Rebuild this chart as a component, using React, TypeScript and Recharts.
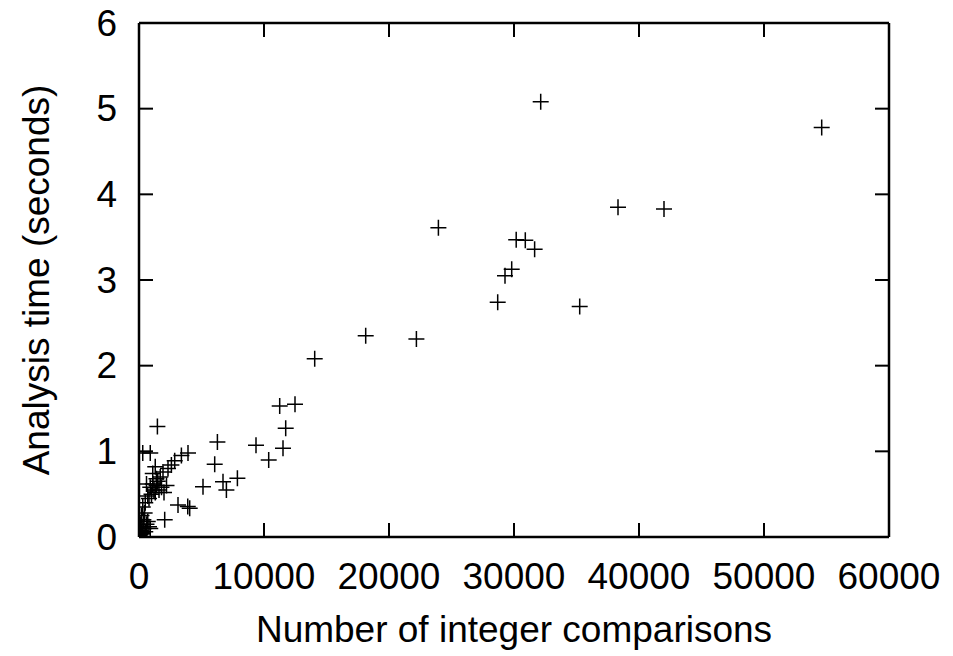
import React from "react";
import { ScatterChart, Scatter, XAxis, YAxis } from "recharts";

const comparisons: number[] = [
  50, 100, 200, 300, 150, 400, 500, 250, 600, 350, 700, 800, 900, 100, 200, 450,
  300, 500, 800, 1000, 1200, 1400, 1600, 1100, 1300, 1800, 1500, 900, 700, 2000,
  1700, 1100, 1300, 1400, 600, 2200, 1472, 300, 900, 1920, 2320, 2592, 2856, 3392,
  3920, 2056, 3120, 4056, 3900, 5120, 6720, 6992, 7872, 6272, 6056, 9360, 10376,
  11520, 11736, 11256, 12480, 14056, 18136, 22192, 23952, 28696, 29280, 29816,
  30176, 30904, 31650, 32136, 35256, 38320, 42000, 54616,
];
const times: number[] = [
  0.02, 0.03, 0.05, 0.04, 0.08, 0.1, 0.06, 0.12, 0.15, 0.2, 0.18, 0.12, 0.1, 0.15, 0.25, 0.28,
  0.35, 0.4, 0.45, 0.5, 0.55, 0.6, 0.55, 0.62, 0.52, 0.58, 0.65, 0.58, 0.48, 0.52,
  0.7, 0.74, 0.82, 0.68, 0.62, 0.6, 1.29, 0.98, 0.98, 0.76, 0.8, 0.84, 0.89, 0.95,
  0.98, 0.2, 0.374, 0.335, 0.355, 0.587, 0.645, 0.55, 0.685, 1.11, 0.85, 1.07, 0.9,
  1.035, 1.27, 1.53, 1.55, 2.08, 2.35, 2.31, 3.61, 2.74, 3.05, 3.125,
  3.47, 3.465, 3.36, 5.08, 2.69, 3.85, 3.83, 4.78,
];
const xTicks: number[] = [0, 10000, 20000, 30000, 40000, 50000, 60000];
const yTicks: number[] = [0, 1, 2, 3, 4, 5, 6];

const data = comparisons.map((x, i) => ({ x, y: times[i] }));

const FONT = "'Liberation Sans', Arial, Helvetica, sans-serif";
const FS = 37;
const TICK = 14;

const Cross = (props: any) => {
  const { cx, cy } = props;
  if (cx == null || cy == null) return null;
  const h = 8;
  return (
    <path
      d={`M${cx - h},${cy}H${cx + h}M${cx},${cy - h}V${cy + h}`}
      stroke="#000"
      strokeWidth={1.5}
      fill="none"
    />
  );
};

const BottomTick = (props: any) => {
  const { x, y, payload } = props;
  return (
    <g>
      <line x1={x} x2={x} y1={y} y2={y - TICK} stroke="#000" strokeWidth={2} />
      <text x={x} y={y + 39} textAnchor="middle" dominantBaseline="central" fontSize={FS} fontFamily={FONT} fill="#000">
        {payload.value}
      </text>
    </g>
  );
};
const TopTick = (props: any) => {
  const { x, y } = props;
  return <line x1={x} x2={x} y1={y} y2={y + TICK} stroke="#000" strokeWidth={2} />;
};
const LeftTick = (props: any) => {
  const { x, y, payload } = props;
  return (
    <g>
      <line x1={x} x2={x + TICK} y1={y} y2={y} stroke="#000" strokeWidth={2} />
      <text x={x - 22} y={y} textAnchor="end" dominantBaseline="central" fontSize={FS} fontFamily={FONT} fill="#000">
        {payload.value}
      </text>
    </g>
  );
};
const RightTick = (props: any) => {
  const { x, y } = props;
  return <line x1={x} x2={x - TICK} y1={y} y2={y} stroke="#000" strokeWidth={2} />;
};

const XTitle = (props: any) => {
  const vb = props.viewBox || {};
  return (
    <text x={vb.x + vb.width / 2} y={vb.y + 105} textAnchor="middle" fontSize={FS} fontFamily={FONT} fill="#000">
      Number of integer comparisons
    </text>
  );
};
const YTitle = (props: any) => {
  const vb = props.viewBox || {};
  const cx = vb.x + 36;
  const cy = vb.y + vb.height / 2;
  return (
    <text
      x={cx}
      y={cy}
      transform={`rotate(-90 ${cx} ${cy})`}
      textAnchor="middle"
      dominantBaseline="central"
      fontSize={FS}
      fontFamily={FONT}
      fill="#000"
    >
      Analysis time (seconds)
    </text>
  );
};

const axisLine = { stroke: "#000", strokeWidth: 2.5 };

export default function App() {
  return (
    <div style={{ position: "absolute", left: 0, top: 0, background: "#fff" }}>
      <ScatterChart width={953} height={656} margin={{ top: 22, right: 63, bottom: 9, left: 0 }}>
        <XAxis
          xAxisId="b"
          type="number"
          dataKey="x"
          domain={[0, 60000]}
          ticks={xTicks}
          allowDataOverflow
          orientation="bottom"
          height={110}
          tickSize={0}
          tickMargin={0}
          tickLine={false}
          axisLine={axisLine}
          tick={<BottomTick />}
          interval={0}
          label={<XTitle />}
        />
        <XAxis
          xAxisId="t"
          type="number"
          dataKey="x"
          domain={[0, 60000]}
          ticks={xTicks}
          allowDataOverflow
          orientation="top"
          height={1}
          tickSize={0}
          tickMargin={0}
          tickLine={false}
          axisLine={axisLine}
          tick={<TopTick />}
          interval={0}
        />
        <YAxis
          yAxisId="l"
          type="number"
          dataKey="y"
          domain={[0, 6]}
          ticks={yTicks}
          allowDataOverflow
          orientation="left"
          width={139}
          tickSize={0}
          tickMargin={0}
          tickLine={false}
          axisLine={axisLine}
          tick={<LeftTick />}
          interval={0}
          label={<YTitle />}
        />
        <YAxis
          yAxisId="r"
          type="number"
          dataKey="y"
          domain={[0, 6]}
          ticks={yTicks}
          allowDataOverflow
          orientation="right"
          width={1}
          tickSize={0}
          tickMargin={0}
          tickLine={false}
          axisLine={axisLine}
          tick={<RightTick />}
          interval={0}
        />
        <Scatter
          data={data}
          xAxisId="b"
          yAxisId="l"
          shape={<Cross />}
          isAnimationActive={false}
        />
      </ScatterChart>
    </div>
  );
}
